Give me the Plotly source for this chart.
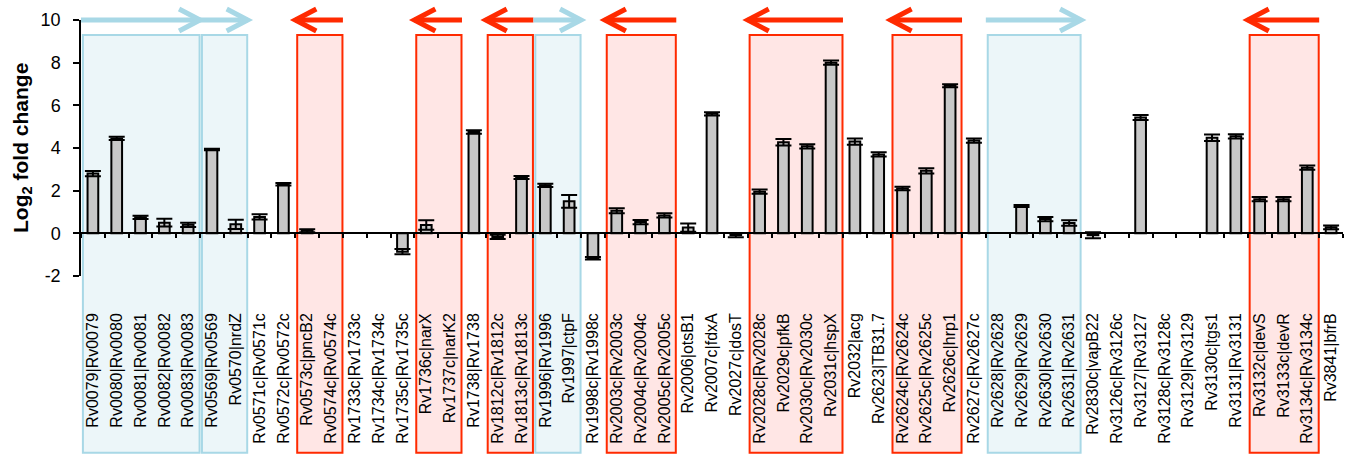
import plotly.graph_objects as go

genes = [
    "Rv0079|Rv0079", "Rv0080|Rv0080", "Rv0081|Rv0081", "Rv0082|Rv0082", "Rv0083|Rv0083",
    "Rv0569|Rv0569", "Rv0570|nrdZ", "Rv0571c|Rv0571c", "Rv0572c|Rv0572c", "Rv0573c|pncB2",
    "Rv0574c|Rv0574c", "Rv1733c|Rv1733c", "Rv1734c|Rv1734c", "Rv1735c|Rv1735c", "Rv1736c|narX",
    "Rv1737c|narK2", "Rv1738|Rv1738", "Rv1812c|Rv1812c", "Rv1813c|Rv1813c", "Rv1996|Rv1996",
    "Rv1997|ctpF", "Rv1998c|Rv1998c", "Rv2003c|Rv2003c", "Rv2004c|Rv2004c", "Rv2005c|Rv2005c",
    "Rv2006|otsB1", "Rv2007c|fdxA", "Rv2027c|dosT", "Rv2028c|Rv2028c", "Rv2029c|pfkB",
    "Rv2030c|Rv2030c", "Rv2031c|hspX", "Rv2032|acg", "Rv2623|TB31.7", "Rv2624c|Rv2624c",
    "Rv2625c|Rv2625c", "Rv2626c|hrp1", "Rv2627c|Rv2627c", "Rv2628|Rv2628", "Rv2629|Rv2629",
    "Rv2630|Rv2630", "Rv2631|Rv2631", "Rv2830c|vapB22", "Rv3126c|Rv3126c", "Rv3127|Rv3127",
    "Rv3128c|Rv3128c", "Rv3129|Rv3129", "Rv3130c|tgs1", "Rv3131|Rv3131", "Rv3132c|devS",
    "Rv3133c|devR", "Rv3134c|Rv3134c", "Rv3841|bfrB",
]

log2fc = [
    2.8, 4.45, 0.75, 0.5, 0.4,
    3.93, 0.42, 0.77, 2.3, 0.12,
    None, None, None, -0.86, 0.39,
    None, 4.75, -0.17, 2.62, 2.25,
    1.5, -1.17, 1.06, 0.53, 0.84,
    0.27, 5.6, -0.08, 1.95, 4.27,
    4.08, 8.0, 4.3, 3.7, 2.1,
    2.93, 6.92, 4.35, None, 1.28,
    0.67, 0.48, -0.09, None, 5.43,
    None, None, 4.48, 4.55, 1.6,
    1.6, 3.08, 0.28,
]

errors = [
    0.12, 0.08, 0.08, 0.18, 0.1,
    0.04, 0.22, 0.12, 0.06, 0.07,
    0, 0, 0, 0.12, 0.22,
    0, 0.08, 0.1, 0.07, 0.08,
    0.3, 0.06, 0.12, 0.1, 0.1,
    0.19, 0.08, 0.1, 0.1, 0.15,
    0.1, 0.1, 0.15, 0.1, 0.08,
    0.12, 0.07, 0.1, 0, 0.05,
    0.1, 0.13, 0.14, 0, 0.12,
    0, 0, 0.15, 0.1, 0.1,
    0.1, 0.1, 0.09,
]

# operon groups (index of first and last gene, direction of transcription)
group_start = [0, 5, 9, 14, 17, 19, 22, 28, 34, 38, 49]
group_end = [4, 6, 10, 15, 18, 20, 24, 31, 36, 41, 51]
group_dir = ["fwd", "fwd", "rev", "rev", "rev", "fwd", "rev", "rev", "rev", "fwd", "rev"]

y_ticks = [-2, 0, 2, 4, 6, 8, 10]
y_ticktext = ["-2", "0", "2", "4", "6", "8", "10"]
y_title = "<b>Log<sub>2</sub> fold change</b>"

FONT = "Arial, Liberation Sans, sans-serif"
Y_MIN, Y_MAX = -2, 10
BOX_TOP = 9.3
BLUE_LINE, BLUE_FILL = "#a8d8e6", "#ecf6f9"
RED_LINE, RED_FILL = "#ff2a00", "#ffe6e5"

W, H = 1361, 461
ML, MR, MT, MB = 81, 18, 20, 185
PLOT_W = W - ML - MR

idx = list(range(len(genes)))

fig = go.Figure()
fig.add_trace(go.Bar(
    x=idx, y=log2fc, width=0.45,
    marker=dict(color="#c8c8c8", line=dict(color="black", width=2)),
    error_y=dict(type="data", array=errors, color="black", thickness=2, width=8),
    showlegend=False, hoverinfo="x+y",
))
# invisible trace carrying the zero-line axis (ticks between categories)
fig.add_trace(go.Scatter(
    x=idx, y=[0] * len(idx), xaxis="x2", mode="markers",
    marker=dict(opacity=0), showlegend=False, hoverinfo="skip",
))

def to_paper(v):
    return (v - Y_MIN) / (Y_MAX - Y_MIN)

shapes = []
box_bottom = -0.69
for s, e, d in zip(group_start, group_end, group_dir):
    line_c, fill_c = (BLUE_LINE, BLUE_FILL) if d == "fwd" else (RED_LINE, RED_FILL)
    x0, x1 = s - 0.5, e + 0.5
    shapes.append(dict(type="rect", xref="x", yref="paper", x0=x0 + 0.08, x1=x1 - 0.02,
                       y0=box_bottom, y1=to_paper(BOX_TOP), layer="below",
                       fillcolor=fill_c, line=dict(color=line_c, width=2)))
    # arrow shaft
    shapes.append(dict(type="line", xref="x", yref="paper", x0=x0, x1=x1,
                       y0=1, y1=1, layer="above", line=dict(color=line_c, width=5)))
    # arrow head (open chevron)
    if d == "fwd":
        tip, path = x1, "M -21,11 L 0,0 L -21,-11"
    else:
        tip, path = x0, "M 21,11 L 0,0 L 21,-11"
    shapes.append(dict(type="path", xref="x", yref="paper", xsizemode="pixel",
                       ysizemode="pixel", xanchor=tip, yanchor=1, path=path,
                       layer="above", line=dict(color=line_c, width=5)))

fig.update_layout(
    width=W, height=H,
    margin=dict(l=ML, r=MR, t=MT, b=MB, autoexpand=False),
    paper_bgcolor="white", plot_bgcolor="rgba(0,0,0,0)",
    font=dict(family=FONT, color="black"),
    shapes=shapes,
    annotations=[dict(
        text=y_title, xref="paper", yref="paper", x=(22 - ML) / PLOT_W, y=0.5,
        xanchor="center", yanchor="middle", textangle=-90, showarrow=False,
        font=dict(size=21, family=FONT, color="black"),
    )],
    xaxis=dict(
        range=[-0.5, len(genes) - 0.5], tickmode="array", tickvals=idx, ticktext=genes,
        tickangle=-90, tickfont=dict(size=16, family=FONT), ticks="", showline=False,
        showgrid=False, zeroline=False, ticklabelstandoff=33, automargin=False,
    ),
    xaxis2=dict(
        range=[-0.5, len(genes) - 0.5], overlaying="x", anchor="free",
        position=to_paper(0), tickmode="array",
        tickvals=[i - 0.5 for i in range(len(genes) + 1)],
        showticklabels=False, ticks="outside", ticklen=4, tickwidth=1.5, tickcolor="black",
        showline=True, linecolor="black", linewidth=1.5, showgrid=False, zeroline=False,
        automargin=False,
    ),
    yaxis=dict(
        range=[Y_MIN, Y_MAX], tickmode="array", tickvals=y_ticks, ticktext=y_ticktext,
        tickfont=dict(size=18, family=FONT), ticks="outside", ticklen=6, tickwidth=1.5,
        tickcolor="black", showline=True, linecolor="black", linewidth=1.5,
        showgrid=False, zeroline=False, automargin=False, ticklabelstandoff=9,
    ),
)

fig.write_html("out.html", config={"displayModeBar": False},
               post_script="document.body.style.margin='0';")
